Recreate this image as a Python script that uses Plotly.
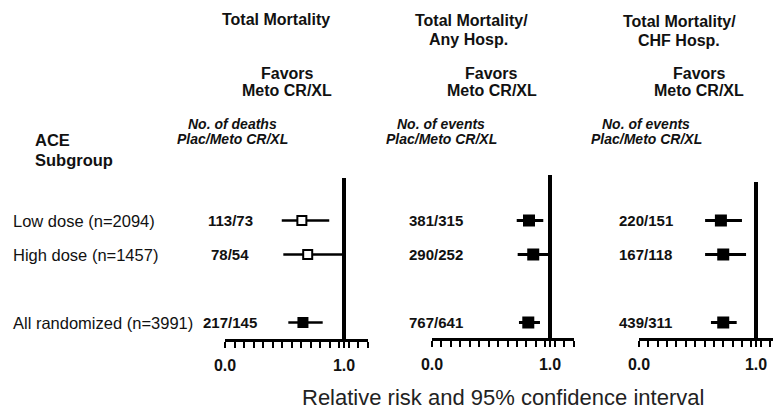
import numpy as np
import plotly.graph_objects as go

# ---------------- data ----------------
subgroups = ["Low dose (n=2094)", "High dose (n=1457)", "All randomized (n=3991)"]

panel_titles = [["Total Mortality"],
                ["Total Mortality/", "Any Hosp."],
                ["Total Mortality/", "CHF Hosp."]]
favors_text = ["Favors", "Meto CR/XL"]
count_headers = [["No. of deaths", "Plac/Meto CR/XL"],
                 ["No. of events", "Plac/Meto CR/XL"],
                 ["No. of events", "Plac/Meto CR/XL"]]

counts_p1 = ["113/73", "78/54", "217/145"]
counts_p2 = ["381/315", "290/252", "767/641"]
counts_p3 = ["220/151", "167/118", "439/311"]

rr_p1 = [0.646, 0.695, 0.655]
lo_p1 = [0.477, 0.490, 0.532]
hi_p1 = [0.876, 0.990, 0.821]

rr_p2 = [0.822, 0.858, 0.816]
lo_p2 = [0.718, 0.726, 0.737]
hi_p2 = [0.943, 0.986, 0.915]

rr_p3 = [0.700, 0.720, 0.720]
lo_p3 = [0.565, 0.565, 0.615]
hi_p3 = [0.880, 0.915, 0.835]

tick_labels = ["0.0", "1.0"]
x_title = "Relative risk and 95% confidence interval"

# ---------------- layout constants ----------------
W, H = 781, 414
OFF = 8                       # page (body) margin of the html page
FONT = "Liberation Sans, Arial, Helvetica, sans-serif"
ROW_SLOT = [0, 1, 3]          # vertical slot of each subgroup
ROW0_PX, SLOT_PX = 220.5, 34  # pixel of slot 0 and pixels per slot

# per panel: pixel of RR=0, pixels per unit, axis-line pixel, top of null line pixel
panels = [
    dict(x0=225, scale=119, axis=339, top=178, rr=rr_p1, lo=lo_p1, hi=hi_p1,
         counts=counts_p1, open=[True, True, False], cx=230, canchor="center",
         tx=[276], ty=[19], fx=287, hx=232, msize=9, ci=2.5),
    dict(x0=432, scale=118, axis=338, top=175, rr=rr_p2, lo=lo_p2, hi=hi_p2,
         counts=counts_p2, open=[False, False, False], cx=407, canchor="left",
         tx=[471, 469], ty=[20, 39], fx=492, hx=441, msize=10, ci=3),
    dict(x0=639, scale=117, axis=338, top=182, rr=rr_p3, lo=lo_p3, hi=hi_p3,
         counts=counts_p3, open=[False, False, False], cx=617, canchor="left",
         tx=[679, 679], ty=[21, 40], fx=699, hx=646, msize=10, ci=3),
]
XMAX = 1.2


def px(x):
    return (x - OFF) / W


def py(y):
    return 1 - (y - OFF) / H


fig = go.Figure()
annotations = []
shapes = []
layout_axes = {}

for i, p in enumerate(panels, start=1):
    xa = "x" if i == 1 else f"x{i}"
    ya = "y" if i == 1 else f"y{i}"
    rr = np.array(p["rr"])
    lo = np.array(p["lo"])
    hi = np.array(p["hi"])
    ys = [ROW_SLOT[k] for k in range(len(rr))]
    fills = ["white" if o else "black" for o in p["open"]]

    fig.add_trace(go.Scatter(
        x=rr, y=ys, mode="markers", xaxis=xa, yaxis=ya,
        marker=dict(symbol="square", size=p["msize"], color=fills,
                    line=dict(color="black", width=2)),
        error_x=dict(type="data", symmetric=False, array=hi - rr,
                     arrayminus=rr - lo, width=0, thickness=p["ci"], color="black"),
        showlegend=False, cliponaxis=False, hoverinfo="skip",
    ))

    x_end = p["x0"] + XMAX * p["scale"]
    layout_axes["xaxis" if i == 1 else f"xaxis{i}"] = dict(
        domain=[px(p["x0"]), min(px(x_end), 1.0)], range=[0, XMAX],
        anchor=ya, showgrid=False, zeroline=False, automargin=False,
        showline=True, linecolor="black", linewidth=2.5,
        tickmode="array", tickvals=[0, 1], ticktext=tick_labels,
        ticks="outside", ticklen=6, tickwidth=2, tickcolor="black",
        ticklabelstandoff=4,
        tickfont=dict(family=FONT, size=16, color="#111", weight="bold"),
        minor=dict(tickmode="array", tickvals=list(np.arange(0, XMAX + 1e-9, 0.08)),
                   ticks="outside", ticklen=6, tickwidth=2, tickcolor="black",
                   showgrid=False),
    )
    y_bot = (p["axis"] - ROW0_PX) / SLOT_PX
    y_top = (p["top"] - ROW0_PX) / SLOT_PX
    layout_axes["yaxis" if i == 1 else f"yaxis{i}"] = dict(
        domain=[py(p["axis"]), py(p["top"])], range=[y_bot, y_top],
        anchor=xa, visible=False, showgrid=False, zeroline=False, automargin=False,
    )

    # null line at RR = 1
    shapes.append(dict(type="line", xref=xa, yref=f"{ya} domain",
                       x0=1, x1=1, y0=0, y1=1,
                       line=dict(color="black", width=4), layer="above"))

    # panel titles
    for txt, tx, ty in zip(panel_titles[i - 1], p["tx"], p["ty"]):
        annotations.append(dict(text=txt, x=px(tx), y=py(ty), xref="paper", yref="paper",
                                xanchor="center", yanchor="middle", showarrow=False,
                                font=dict(family=FONT, size=16, color="#111", weight="bold")))
    for txt, fy in zip(favors_text, [73, 90]):
        annotations.append(dict(text=txt, x=px(p["fx"]), y=py(fy), xref="paper", yref="paper",
                                xanchor="center", yanchor="middle", showarrow=False,
                                font=dict(family=FONT, size=16, color="#111", weight="bold")))
    for txt, hy in zip(count_headers[i - 1], [124, 139]):
        annotations.append(dict(text=txt, x=px(p["hx"]), y=py(hy), xref="paper", yref="paper",
                                xanchor="center", yanchor="middle", showarrow=False,
                                font=dict(family=FONT, size=14, color="#111",
                                          weight="bold", style="italic")))
    # counts
    for k, c in enumerate(p["counts"]):
        annotations.append(dict(text=c, x=px(p["cx"]), y=ROW_SLOT[k], xref="paper", yref=ya,
                                xanchor=p["canchor"], yanchor="middle", showarrow=False,
                                font=dict(family=FONT, size=15, color="#111", weight="bold")))

# subgroup header and row labels
for txt, yy in zip(["ACE", "Subgroup"], [140, 160]):
    annotations.append(dict(text=txt, x=px(33), y=py(yy), xref="paper", yref="paper",
                            xanchor="left", yanchor="middle", showarrow=False,
                            font=dict(family=FONT, size=16.5, color="#111", weight="bold")))
for k, lab in enumerate(subgroups):
    annotations.append(dict(text=lab, x=px(11), y=ROW_SLOT[k], xref="paper", yref="y",
                            xanchor="left", yanchor="middle", showarrow=False,
                            font=dict(family=FONT, size=16.5, color="#111")))

annotations.append(dict(text=x_title, x=px(503), y=py(397), xref="paper", yref="paper",
                        xanchor="center", yanchor="middle", showarrow=False,
                        font=dict(family=FONT, size=22, color="#222")))

fig.update_layout(
    width=W, height=H, autosize=False,
    margin=dict(l=0, r=0, t=0, b=0, pad=0),
    paper_bgcolor="white", plot_bgcolor="white",
    annotations=annotations, shapes=shapes,
    **layout_axes,
)

fig.write_html("out.html")
